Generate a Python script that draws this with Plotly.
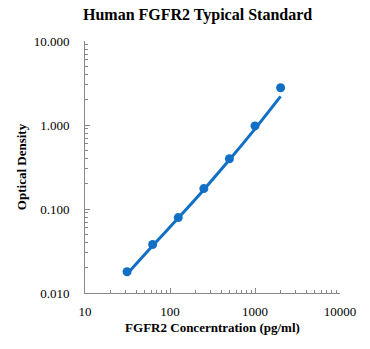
import plotly.graph_objects as go

conc = [31.25, 62.5, 125, 250, 500, 1000, 2000]
od = [0.0179, 0.0378, 0.079, 0.175, 0.396, 0.975, 2.78]
fit_conc = [31.25, 62.5, 125, 250, 500, 1000, 2000]
fit_od = [0.0168, 0.0365, 0.078, 0.170, 0.385, 0.90, 2.19]

y_ticks = [0.01, 0.1, 1, 10]
y_labels = ["0.010", "0.100", "1.000", "10.000"]
x_ticks = [10, 100, 1000, 10000]
x_labels = ["10", "100", "1000", "10000"]

blue = "#1170c6"
fig = go.Figure()
fig.add_trace(go.Scatter(x=fit_conc, y=fit_od, mode="lines",
                         line=dict(color=blue, width=3, shape="spline"), showlegend=False))
fig.add_trace(go.Scatter(x=conc, y=od, mode="markers",
                         marker=dict(color=blue, size=9), showlegend=False))

font = "Liberation Serif, Times New Roman, serif"
fig.update_layout(
    width=370, height=349,
    margin=dict(l=85, r=30, t=41, b=56),
    paper_bgcolor="white", plot_bgcolor="white",
    font=dict(family=font, size=13, color="black"),
    title=dict(text="<b>Human FGFR2 Typical Standard</b>", x=0.534, xanchor="center",
               y=0.96, yanchor="middle", font=dict(size=16, family=font, color="black")),
    xaxis=dict(type="log", range=[1, 4], tickvals=x_ticks, ticktext=x_labels,
               showline=True, linecolor="#888888", linewidth=1, ticks="inside",
               ticklen=5, tickcolor="#888888", showgrid=False, zeroline=False,
               ticklabelstandoff=6,
               minor=dict(ticks="inside", ticklen=3, tickcolor="#888888", dtick="D1", showgrid=False),
               title=dict(text="<b>FGFR2 Concerntration (pg/ml)</b>", font=dict(size=13), standoff=5),
               tickfont=dict(size=13)),
    yaxis=dict(type="log", range=[-2, 1], tickvals=y_ticks, ticktext=y_labels,
               showline=True, linecolor="#888888", linewidth=1, ticks="inside",
               ticklen=5, tickcolor="#888888", showgrid=False, zeroline=False,
               ticklabelstandoff=12,
               minor=dict(ticks="inside", ticklen=3, tickcolor="#888888", dtick="D1", showgrid=False),
               title=dict(text="<b>Optical Density</b>", font=dict(size=13), standoff=4),
               tickfont=dict(size=13)),
)
fig.write_html("out.html")
